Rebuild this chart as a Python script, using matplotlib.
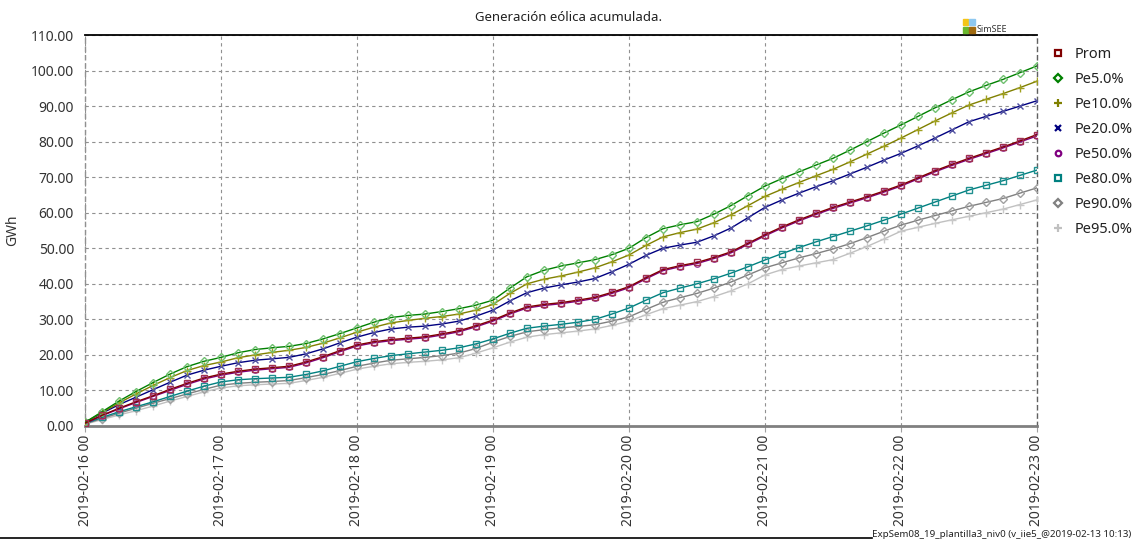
import numpy as np
import pandas as pd
import matplotlib
matplotlib.use("Agg")
import matplotlib.pyplot as plt
import matplotlib.dates as mdates
from matplotlib.patches import Rectangle
from matplotlib.lines import Line2D

plt.rcParams["font.family"] = ["Noto Sans", "DejaVu Sans"]

# accumulated wind generation (GWh), one value every 3 hours
t0 = "2019-02-16 00:00"
step = "3h"

pe05 = [1.0, 4.0, 7.0, 9.7, 12.2, 14.6, 16.7, 18.2,
        19.3, 20.6, 21.5, 22.0, 22.4, 23.2, 24.5, 26.0,
        27.6, 29.2, 30.5, 31.1, 31.5, 32.2, 33.0, 34.0,
        35.4, 38.8, 42.0, 43.8, 45.0, 45.9, 46.8, 48.2,
        50.0, 53.0, 55.5, 56.6, 57.5, 59.6, 62.0, 64.8,
        67.5, 69.6, 71.5, 73.4, 75.3, 77.6, 80.0, 82.4,
        84.7, 87.1, 89.5, 91.8, 94.0, 95.8, 97.5, 99.4, 101.3]
pe10 = [1.0, 3.8, 6.5, 9.0, 11.4, 13.6, 15.6, 17.0,
        18.0, 19.2, 20.0, 20.7, 21.3, 22.1, 23.3, 24.8,
        26.4, 27.8, 29.0, 29.7, 30.3, 30.8, 31.5, 32.6,
        34.2, 37.3, 40.0, 41.3, 42.2, 43.3, 44.5, 46.2,
        48.1, 50.8, 53.2, 54.4, 55.4, 57.2, 59.4, 62.0,
        64.6, 66.6, 68.5, 70.4, 72.2, 74.3, 76.5, 78.7,
        81.0, 83.4, 85.8, 88.1, 90.3, 91.9, 93.5, 95.2, 97.0]
pe20 = [1.0, 3.6, 6.0, 8.1, 10.2, 12.3, 14.3, 15.7,
        16.8, 17.8, 18.5, 18.9, 19.3, 20.3, 21.7, 23.4,
        25.0, 26.3, 27.3, 27.8, 28.1, 28.7, 29.5, 30.9,
        32.6, 35.2, 37.5, 38.8, 39.7, 40.5, 41.5, 43.4,
        45.5, 48.0, 50.0, 50.9, 51.7, 53.5, 55.7, 58.6,
        61.5, 63.6, 65.5, 67.3, 69.0, 70.9, 72.8, 74.8,
        76.7, 78.8, 81.0, 83.3, 85.6, 87.1, 88.5, 90.0, 91.5]
prom = [0.8, 3.0, 5.0, 6.8, 8.5, 10.3, 12.0, 13.5,
        14.6, 15.4, 16.0, 16.4, 16.8, 18.0, 19.5, 21.2,
        22.8, 23.7, 24.3, 24.7, 25.1, 25.9, 26.8, 28.2,
        29.8, 31.8, 33.5, 34.2, 34.7, 35.4, 36.2, 37.6,
        39.2, 41.7, 44.0, 45.1, 46.0, 47.4, 49.0, 51.4,
        53.8, 56.0, 58.0, 59.8, 61.5, 63.0, 64.5, 66.1,
        67.8, 69.8, 71.8, 73.6, 75.3, 76.9, 78.5, 80.2, 82.0]
pe50 = [0.7, 2.9, 4.8, 6.6, 8.3, 10.0, 11.7, 13.2,
        14.3, 15.1, 15.7, 16.1, 16.5, 17.7, 19.2, 20.9,
        22.5, 23.4, 24.0, 24.4, 24.8, 25.6, 26.5, 27.9,
        29.5, 31.5, 33.2, 33.9, 34.4, 35.1, 35.9, 37.3,
        38.9, 41.4, 43.7, 44.8, 45.7, 47.1, 48.7, 51.1,
        53.5, 55.7, 57.7, 59.5, 61.2, 62.7, 64.2, 65.8,
        67.5, 69.5, 71.5, 73.3, 75.0, 76.6, 78.2, 79.9, 81.6]
pe80 = [0.7, 2.4, 4.0, 5.4, 6.8, 8.3, 9.8, 11.2,
        12.4, 13.0, 13.3, 13.5, 13.7, 14.5, 15.5, 16.8,
        18.1, 19.0, 19.8, 20.3, 20.8, 21.3, 22.0, 23.1,
        24.5, 26.1, 27.5, 28.1, 28.6, 29.2, 30.0, 31.5,
        33.2, 35.4, 37.5, 38.8, 40.0, 41.4, 43.0, 44.8,
        46.7, 48.5, 50.2, 51.8, 53.3, 54.8, 56.3, 57.9,
        59.6, 61.3, 63.0, 64.7, 66.4, 67.7, 69.0, 70.5, 72.0]
pe90 = [0.6, 2.1, 3.6, 5.0, 6.4, 7.7, 9.0, 10.3,
        11.5, 12.0, 12.3, 12.5, 12.8, 13.6, 14.5, 15.6,
        16.8, 17.7, 18.5, 18.9, 19.3, 19.8, 20.5, 21.8,
        23.6, 25.2, 26.5, 27.1, 27.6, 28.0, 28.5, 29.5,
        30.7, 32.8, 34.8, 36.1, 37.3, 38.8, 40.5, 42.5,
        44.5, 45.9, 47.3, 48.5, 49.8, 51.3, 53.0, 54.8,
        56.5, 57.9, 59.2, 60.5, 61.8, 62.9, 64.0, 65.5, 67.0]
pe95 = [0.5, 1.8, 3.1, 4.3, 5.6, 7.0, 8.3, 9.6,
        10.7, 11.3, 11.6, 11.8, 12.0, 12.8, 13.7, 14.8,
        16.0, 16.8, 17.5, 17.9, 18.2, 18.6, 19.2, 20.5,
        22.0, 23.6, 25.0, 25.7, 26.2, 26.7, 27.3, 28.3,
        29.5, 31.3, 33.0, 34.0, 35.0, 36.4, 38.0, 40.0,
        42.5, 44.0, 45.0, 45.9, 46.8, 48.6, 50.5, 52.6,
        54.8, 55.9, 57.0, 58.0, 59.0, 60.0, 61.0, 62.3, 63.6]

series = [
    ("Prom", prom, "#800000", "s"),
    ("Pe5.0%", pe05, "#008000", "D"),
    ("Pe10.0%", pe10, "#808000", "+"),
    ("Pe20.0%", pe20, "#000080", "x"),
    ("Pe50.0%", pe50, "#800080", "o"),
    ("Pe80.0%", pe80, "#008080", "s"),
    ("Pe90.0%", pe90, "#808080", "D"),
    ("Pe95.0%", pe95, "#c0c0c0", "+"),
]
# lighter marker edges, as drawn in the original
mk_edge = {"Prom": "#a03050", "Pe5.0%": "#70c070", "Pe10.0%": "#a0a020",
           "Pe20.0%": "#5050a0", "Pe50.0%": "#a040a0", "Pe80.0%": "#209090",
           "Pe90.0%": "#a0a0a0", "Pe95.0%": "#c8c8c8"}
ms = {"s": 4.5, "D": 3.8, "+": 5.5, "x": 4.5, "o": 4.0}

times = pd.date_range(t0, periods=len(prom), freq=step)

fig = plt.figure(figsize=(11.38, 5.41), dpi=100)
ax = fig.add_axes([0.0747, 0.2126, 0.8365, 0.7227])

# draw lowest first so upper curves sit on top
for name, vals, col, mk in reversed(series):
    ax.plot(times, vals, "-", color=col, lw=1.0, marker=mk, ms=ms[mk],
            mfc="none", mec=mk_edge[name], mew=1.0, zorder=3)

ax.set_ylim(0, 110)
ax.set_yticks(np.arange(0, 111, 10))
ax.yaxis.set_major_formatter(plt.FuncFormatter(lambda v, p: "%.2f" % v))
ax.set_xlim(times[0], times[-1])
ax.xaxis.set_major_locator(mdates.DayLocator())
ax.xaxis.set_major_formatter(mdates.DateFormatter("%Y-%m-%d %H"))
plt.setp(ax.get_xticklabels(), rotation=90, fontsize=10, color="#333333")
plt.setp(ax.get_yticklabels(), fontsize=10, color="#333333")
ax.tick_params(axis="y", length=0, pad=8)
ax.tick_params(axis="x", length=4, color="#a0a0a0", pad=2)

ax.grid(True, ls=(0, (3, 3)), color="#909090", lw=0.8)
for s in ["left", "right"]:
    ax.spines[s].set_linestyle((0, (3, 3)))
    ax.spines[s].set_color("#606060")
    ax.spines[s].set_linewidth(1.0)
ax.spines["left"].set_color("#909090")
ax.spines["top"].set_color("black")
ax.spines["top"].set_linewidth(1.3)
ax.spines["bottom"].set_color("#808080")
ax.spines["bottom"].set_linewidth(2.0)

ax.set_ylabel("GWh", fontsize=10, color="#333333", labelpad=8)
fig.text(0.5, 0.968, "Generación eólica acumulada.", ha="center", va="center",
         fontsize=9.5, color="#222222")

# legend outside on the right
handles = [Line2D([], [], ls="none", marker=mk, ms=ms[mk], mfc="none",
                  mec=col, mew=1.6) for name, vals, col, mk in series]
labels = [name for name, vals, col, mk in series]
fig.legend(handles, labels, loc="upper left", bbox_to_anchor=(0.912, 0.937),
           frameon=False, fontsize=10.5, handlelength=1.0, handletextpad=0.6,
           labelspacing=0.68, labelcolor="#222222")

# SimSEE logo above the top-right corner
logo = [("#f5c518", 0.846, 0.953), ("#8ec8f0", 0.8515, 0.953),
        ("#6ab82e", 0.846, 0.9395), ("#a06a10", 0.8515, 0.9395)]
for c, x, y in logo:
    fig.patches.append(Rectangle((x, y), 0.005, 0.0115, transform=fig.transFigure,
                                 color=c))
fig.text(0.8585, 0.9375, "SimSEE", fontsize=6.5, color="#333333", va="bottom")

# footer
fig.add_artist(Line2D([0.0, 0.766], [0.006, 0.006], color="black", lw=1.2,
                      transform=fig.transFigure))
fig.text(0.994, 0.004, "ExpSem08_19_plantilla3_niv0 (v_iie5_@2019-02-13 10:13)",
         fontsize=7.0, color="#222222", va="bottom", ha="right")

fig.savefig("out.png", dpi=100)
